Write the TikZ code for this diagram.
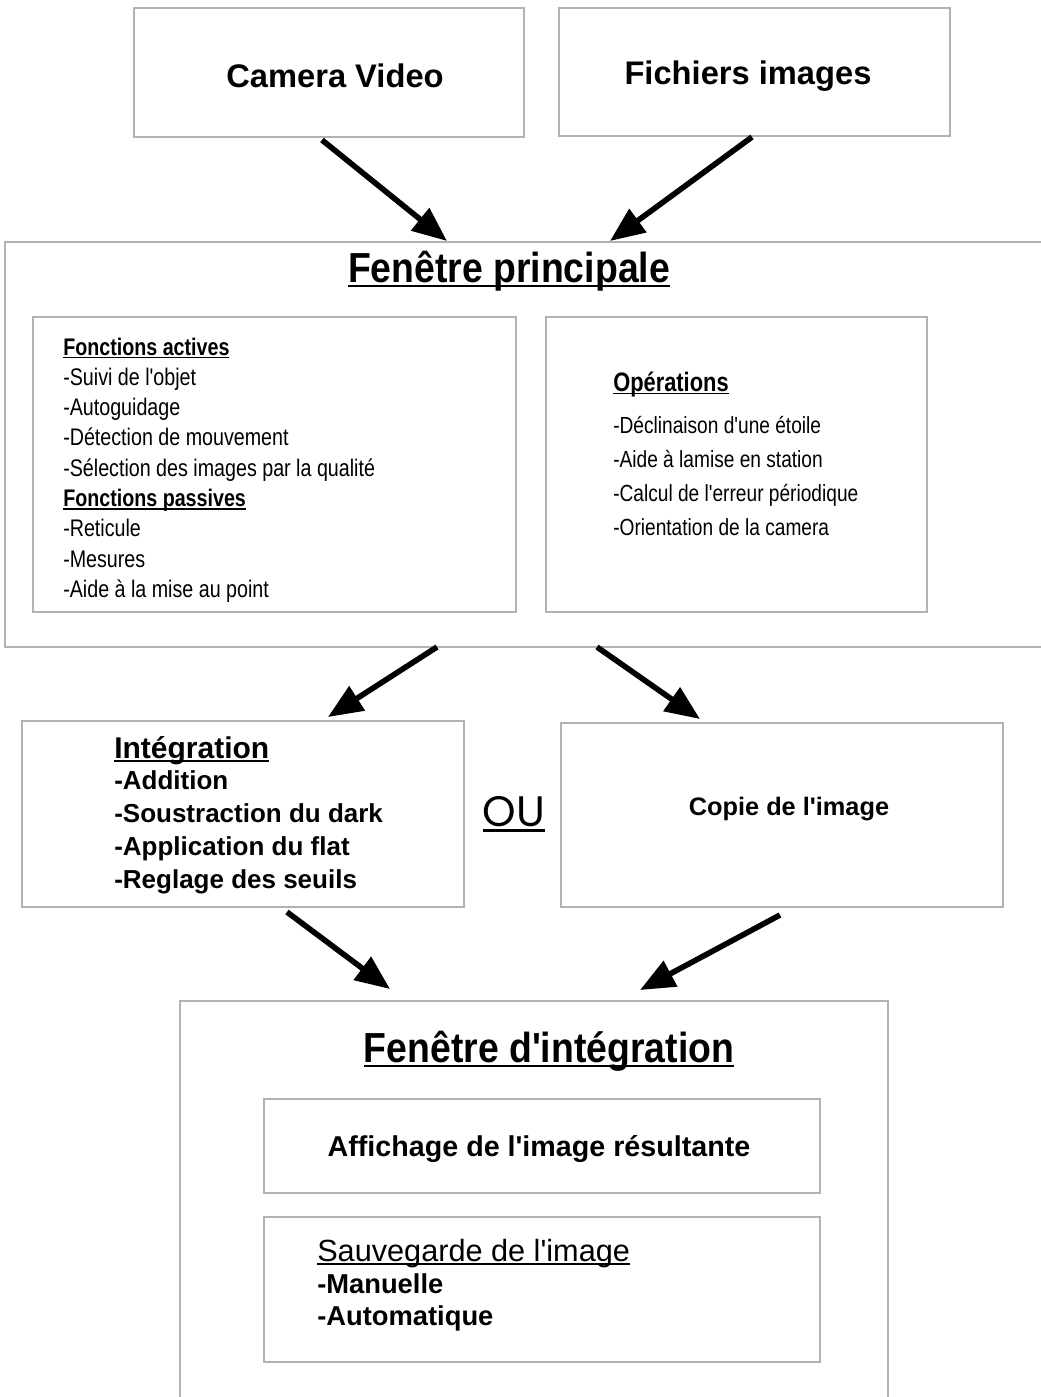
\documentclass[tikz,border=0pt]{standalone}
\usepackage{fontspec}
\newfontfamily\arialfont{Liberation Sans}
\newfontfamily\narrowfont[FakeStretch=0.82]{Liberation Sans}
\newfontfamily\titlefont[FakeStretch=0.89]{Liberation Sans}
\newfontfamily\oufont{Poppins}
\usetikzlibrary{arrows.meta,fit}
\newcommand\myul[1]{\setbox0\hbox{#1}\rlap{\rule[-0.13em]{\wd0}{0.07em}}\box0}
\begin{document}
\begin{tikzpicture}[x=0.75pt,y=-0.75pt,
  font=\arialfont,
  box/.style={draw=black!30,line width=1.3pt,fill=white,inner sep=0pt},
  frame/.style={draw=black!30,line width=1.3pt},
  txt/.style={inner sep=0pt},
  arr/.style={line width=4.2pt,-{Triangle[length=26pt,width=21pt]}}]
\useasboundingbox (0,0) rectangle (1041,1397);
\fill[white] (0,0) rectangle (1041,1397);

% top boxes
\node[box,fit={(134,8)(524,137)}] (cam) {};
\node[txt,anchor=base,font=\arialfont\bfseries\fontsize{24.5}{29}\selectfont] at (335,87) (camt) {Camera Video};
\node[box,fit={(559,8)(950,136)}] (fich) {};
\node[txt,anchor=base,font=\arialfont\bfseries\fontsize{24.5}{29}\selectfont] at (748,84) (ficht) {Fichiers images};

% main window (open on the right)
\draw[frame] (1041,242) -- (5,242) -- (5,647) -- (1041,647);
\node[txt,anchor=base,font=\titlefont\bfseries\fontsize{31.5}{36}\selectfont] at (509,282) (mainT) {\myul{Fenêtre principale}};

\node[box,fit={(33,317)(516,612)}] (fonc) {};
\node[txt,anchor=west,align=left,font=\narrowfont\fontsize{18}{22.7}\selectfont] at (63,470) (foncT)
 {\textbf{\myul{Fonctions actives}}\\
  -Suivi de l'objet\\
  -Autoguidage\\
  -Détection de mouvement\\
  -Sélection des images par la qualité\\
  \textbf{\myul{Fonctions passives}}\\
  -Reticule\\
  -Mesures\\
  -Aide à la mise au point};

\node[box,fit={(546,317)(927,612)}] (oper) {};
\node[txt,anchor=base west,font=\narrowfont\bfseries\fontsize{20}{24}\selectfont] at (613,391) (operT) {\myul{Opérations}};
\node[txt,anchor=west,align=left,font=\narrowfont\fontsize{17.5}{25.5}\selectfont] at (613,476) (operL)
 {-Déclinaison d'une étoile\\
  -Aide à lamise en station\\
  -Calcul de l'erreur périodique\\
  -Orientation de la camera};

% middle boxes
\node[box,fit={(22,721)(464,907)}] (integ) {};
\node[txt,anchor=base west,font=\arialfont\bfseries\fontsize{22.5}{27}\selectfont] at (114,758) (integT) {\myul{Intégration}};
\node[txt,anchor=west,align=left,font=\arialfont\bfseries\fontsize{19.5}{24.75}\selectfont] at (114,832) (integL)
 {-Addition\\
  -Soustraction du dark\\
  -Application du flat\\
  -Reglage des seuils};

\node[txt,anchor=base,font=\oufont\fontsize{32}{36}\selectfont] at (514,826) (ou) {\myul{OU}};

\node[box,fit={(561,723)(1003,907)}] (copie) {};
\node[txt,anchor=base,font=\arialfont\bfseries\fontsize{19}{23}\selectfont] at (789,815) (copieT) {Copie de l'image};

% bottom window (open at the bottom)
\draw[frame] (180,1397) -- (180,1001) -- (888,1001) -- (888,1397);
\node[txt,anchor=base,font=\titlefont\bfseries\fontsize{31.5}{36}\selectfont] at (549,1062) (intwT) {\myul{Fenêtre d'intégration}};

\node[box,fit={(264,1099)(820,1193)}] (aff) {};
\node[txt,anchor=base,font=\arialfont\bfseries\fontsize{21.5}{26}\selectfont] at (539,1156) (affT) {Affichage de l'image résultante};

\node[box,fit={(264,1217)(820,1362)}] (sauv) {};
\node[txt,anchor=base west,font=\arialfont\fontsize{23}{27}\selectfont] at (317,1261) (sauvT) {\myul{Sauvegarde de l'image}};
\node[txt,anchor=west,align=left,font=\arialfont\bfseries\fontsize{20.5}{24}\selectfont] at (317,1302) (sauvL)
 {-Manuelle\\
  -Automatique};

% arrow end points
\coordinate (a1s) at (322,140);  \coordinate (a1e) at (447,241);
\coordinate (a2s) at (752,137);  \coordinate (a2e) at (610,241);
\coordinate (a3s) at (437,647);  \coordinate (a3e) at (328,717);
\coordinate (a4s) at (597,647);  \coordinate (a4e) at (700,719);
\coordinate (a5s) at (287,912);  \coordinate (a5e) at (390,989);
\coordinate (a6s) at (780,915);  \coordinate (a6e) at (640,990);

\draw[arr] (a1s) -- (a1e);
\draw[arr] (a2s) -- (a2e);
\draw[arr] (a3s) -- (a3e);
\draw[arr] (a4s) -- (a4e);
\draw[arr] (a5s) -- (a5e);
\draw[arr] (a6s) -- (a6e);
\end{tikzpicture}
\end{document}
